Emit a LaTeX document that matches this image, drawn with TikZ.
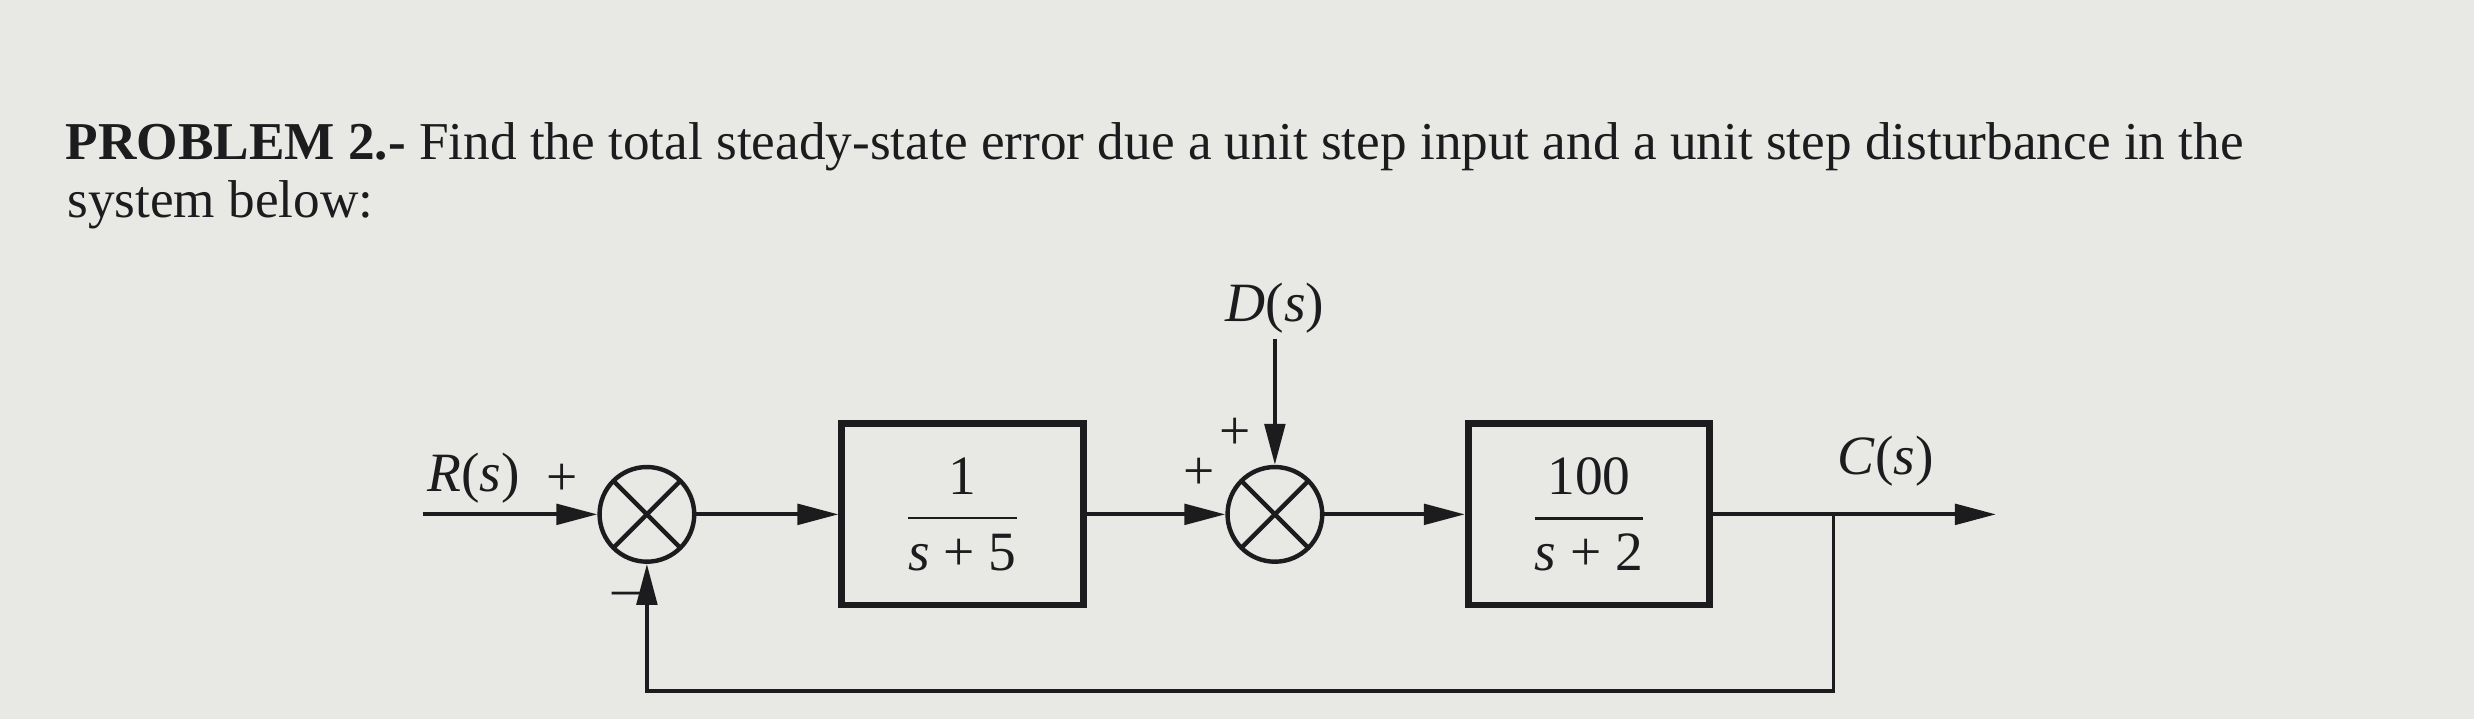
\documentclass[tikz,border=0pt]{standalone}
\usepackage{fontspec}
\setmainfont{Liberation Serif}
\usetikzlibrary{arrows.meta}
\definecolor{paper}{RGB}{232,232,229}
\definecolor{ink}{RGB}{28,28,30}

\begin{document}
\begin{tikzpicture}[
        font=\fontsize{10}{12}\selectfont, color=ink,
        heading/.style={anchor=base west, inner sep=0pt, font=\fontsize{9.6}{11.5}\selectfont},
        block/.style={draw, line width=1.2pt, minimum width=1.53cm, minimum height=1.15cm, inner sep=0pt},
        sumjunction/.style={draw, circle, line width=0.8pt, minimum size=0.6cm, inner sep=0pt,
            path picture={\draw[line width=0.8pt]
                (path picture bounding box.south west) -- (path picture bounding box.north east)
                (path picture bounding box.north west) -- (path picture bounding box.south east);}},
        signal/.style={-{Triangle[length=0.26cm, width=0.13cm]}, line width=0.7pt},
        wire/.style={line width=0.7pt}
    ]
        % page
        \fill[paper] (0, 0) rectangle (15.68, 4.56);
        \useasboundingbox (0, 0) rectangle (15.68, 4.56);

        % problem text
        \node (title) at (0.41, 3.55) [heading] {\textbf{PROBLEM 2.-} Find the total steady-state error due a unit step input and a unit step disturbance in the};
        \node (title2) at (0.42, 3.18) [heading] {system below:};

        % blocks
        \node (sumA) at (4.10, 1.30) [sumjunction] {};
        \node (plant1) at (6.10, 1.30) [block] {$\displaystyle\frac{\mbox{1}}{\mbox{\textit{s} + 5}}$};
        \node (sumB) at (8.08, 1.30) [sumjunction] {};
        \node (plant2) at (10.07, 1.30) [block] {$\displaystyle\frac{\mbox{100}}{\mbox{\textit{s} + 2}}$};
        \coordinate (rin) at (2.68, 1.30);
        \coordinate (dist) at (8.08, 2.41);
        \coordinate (branch) at (11.62, 1.30);
        \coordinate (cout) at (12.65, 1.30);
        \coordinate (fb) at (11.62, 0.18);

        % labels
        \node (Rlabel) at (3.00, 1.53) {\textit{R}(\textit{s})};
        \node (Dlabel) at (8.08, 2.61) {\textit{D}(\textit{s})};
        \node (Clabel) at (11.95, 1.64) {\textit{C}(\textit{s})};
        \node (plusA) at (3.56, 1.52) {+};
        \node (minusA) at (3.97, 0.76) {\textendash};
        \node (plusB) at (7.60, 1.56) {+};
        \node (plusC) at (7.83, 1.81) {+};

        \draw[signal] (rin) -- (sumA);
        \draw[signal] (sumA) -- (plant1);
        \draw[signal] (plant1) -- (sumB);
        \draw[signal] (dist) -- (sumB);
        \draw[signal] (sumB) -- (plant2);
        \draw[wire] (plant2) -- (branch);
        \draw[signal] (branch) -- (cout);
        \draw[signal] (branch) -- (fb) -| (sumA);
    \end{tikzpicture}
\end{document}
